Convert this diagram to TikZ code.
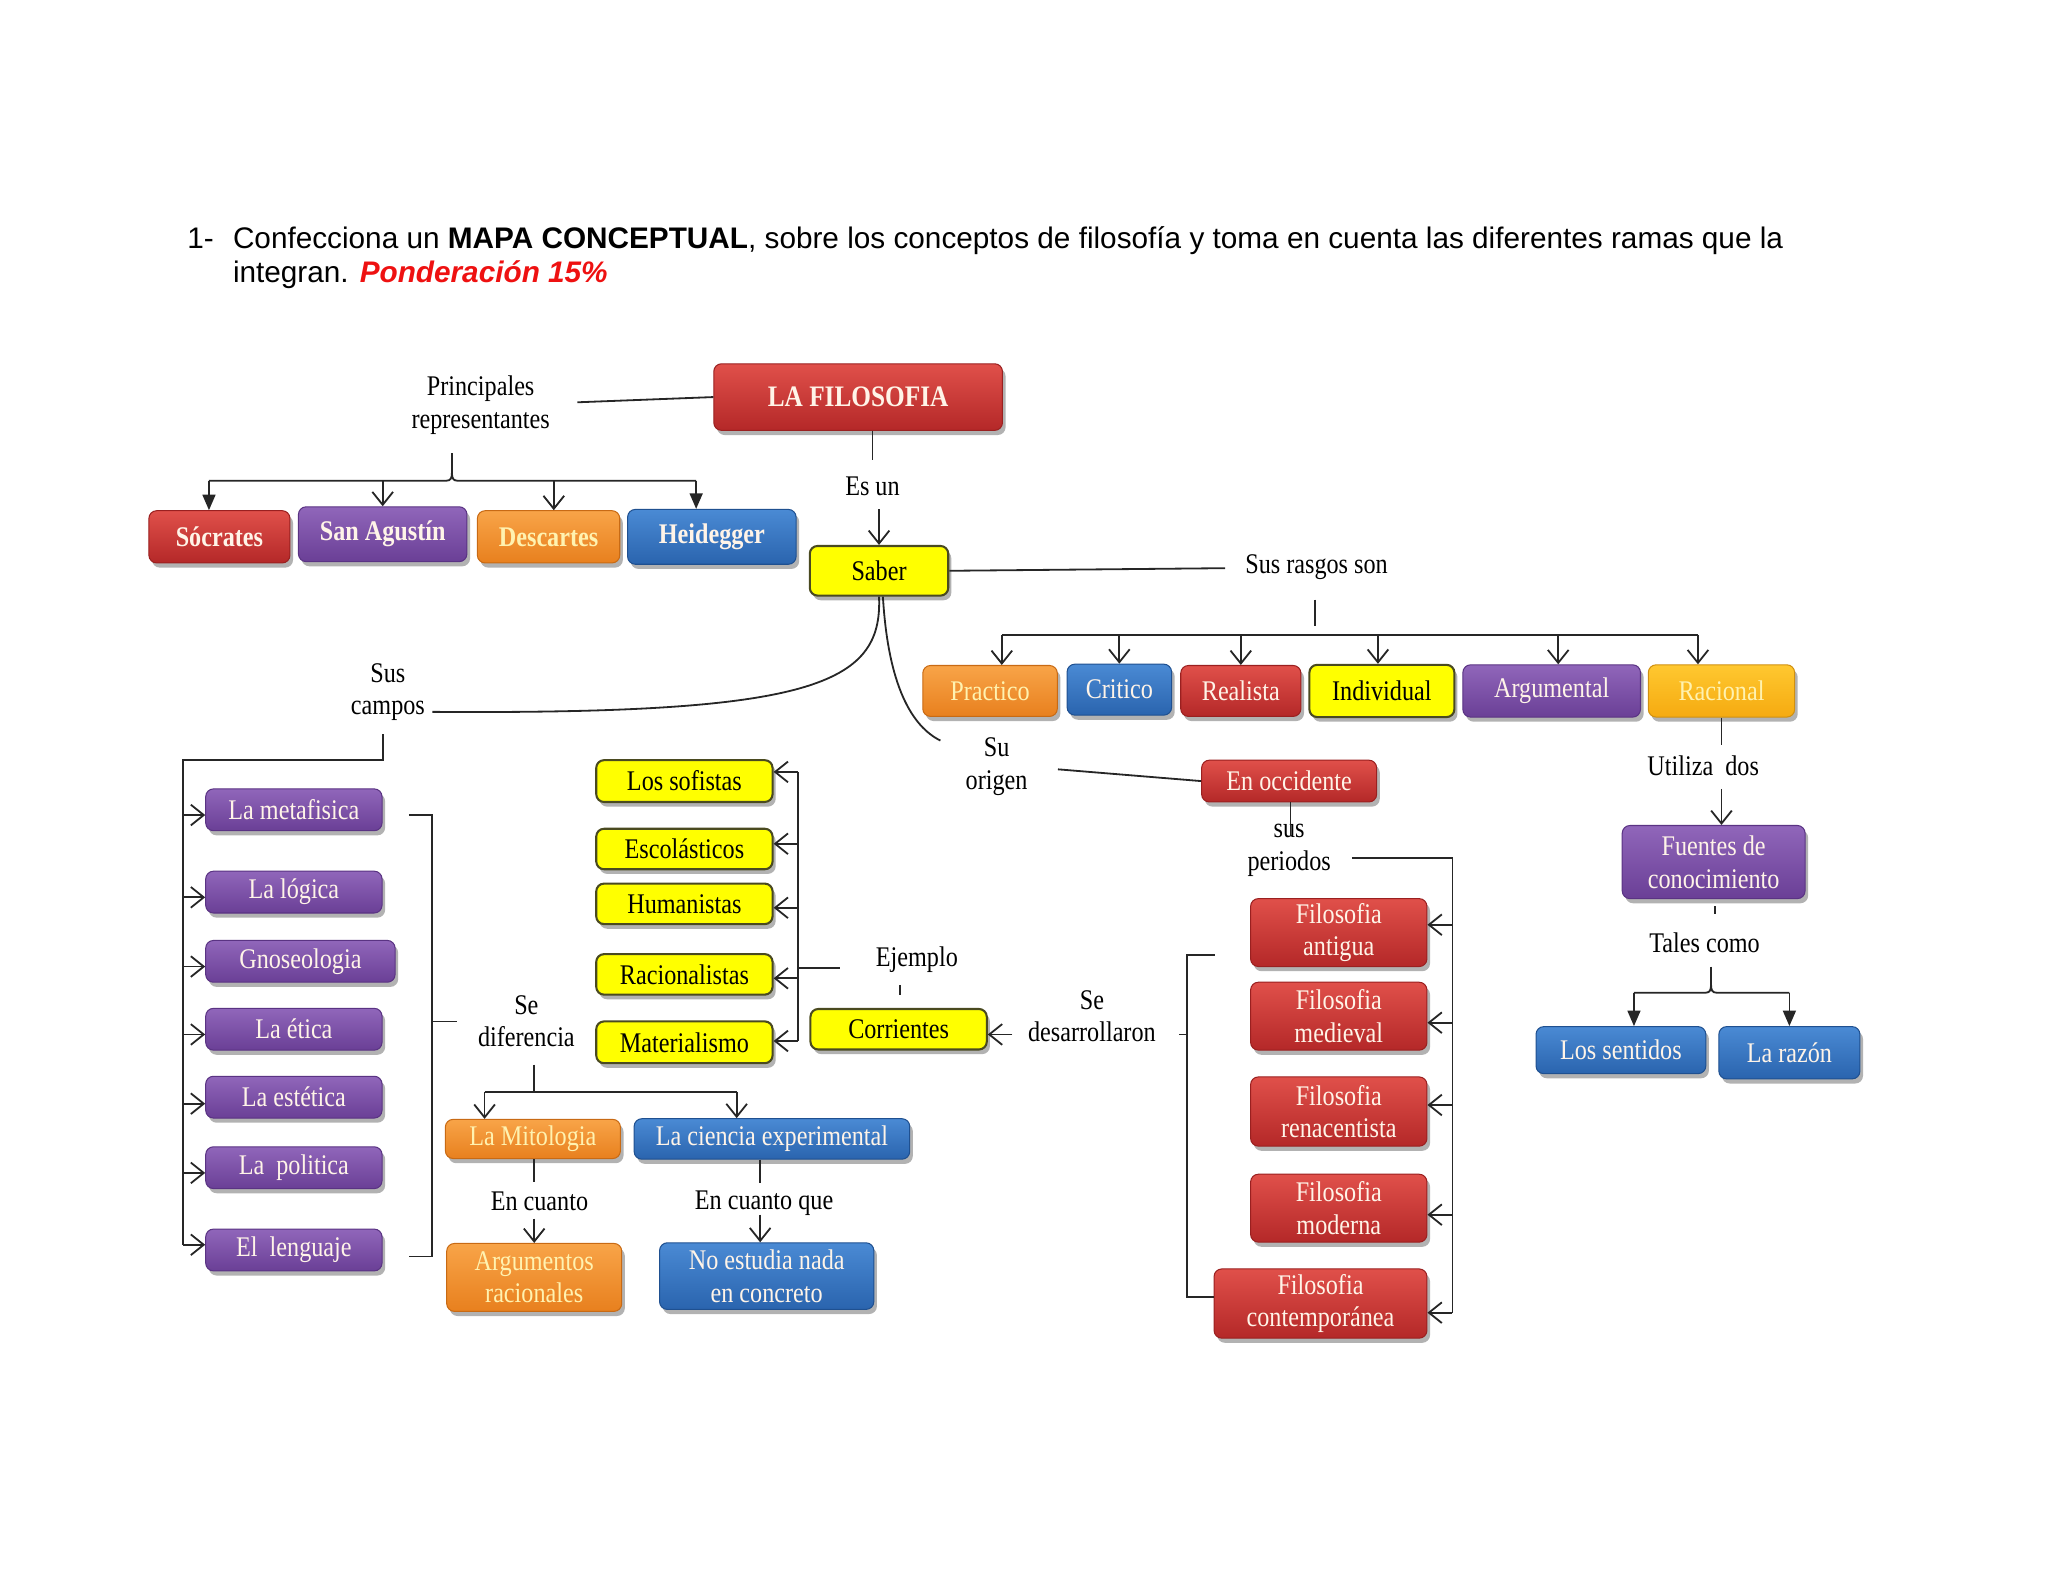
\documentclass[tikz,border=0pt]{standalone}
\usepackage{fontspec}
\usetikzlibrary{arrows.meta,shadows}
\newfontfamily\titlefont{Liberation Sans}
\newfontfamily\dfont[FakeStretch=0.85]{Liberation Serif}
\definecolor{redT}{HTML}{E0504A}\definecolor{redB}{HTML}{B42828}\definecolor{redD}{HTML}{9A2020}
\definecolor{purT}{HTML}{9066BA}\definecolor{purB}{HTML}{6A3F96}\definecolor{purD}{HTML}{5A3383}
\definecolor{oraT}{HTML}{F8A448}\definecolor{oraB}{HTML}{E8801E}\definecolor{oraD}{HTML}{C86A14}
\definecolor{bluT}{HTML}{4A8AD4}\definecolor{bluB}{HTML}{2A64AE}\definecolor{bluD}{HTML}{1F5090}
\definecolor{golT}{HTML}{FFC830}\definecolor{golB}{HTML}{F5AA10}\definecolor{golD}{HTML}{D09010}
\definecolor{yelF}{HTML}{FFFF00}\definecolor{yelD}{HTML}{4A4A20}
\definecolor{lnc}{HTML}{262626}
\definecolor{pale}{HTML}{FFF4E8}
\definecolor{paleY}{HTML}{FFF2B0}
\definecolor{titred}{HTML}{EE1111}
\tikzset{
  wh/.style 2 args={minimum width=#1*0.505pt, minimum height=#2*0.505pt},
  bx/.style={rounded corners=3pt, inner sep=0pt, align=center,
    font=\dfont\fontsize{11}{12.6}\selectfont,
    drop shadow={shadow xshift=1.2pt, shadow yshift=-1.8pt, opacity=0.3, fill=black}},
  redbox/.style={bx, top color=redT, bottom color=redB, draw=redD, text=pale},
  purbox/.style={bx, top color=purT, bottom color=purB, draw=purD, text=pale},
  orabox/.style={bx, top color=oraT, bottom color=oraB, draw=oraD, text=paleY},
  blubox/.style={bx, top color=bluT, bottom color=bluB, draw=bluD, text=pale},
  golbox/.style={bx, top color=golT, bottom color=golB, draw=golD, text=paleY},
  yelbox/.style={bx, fill=yelF, draw=yelD, line width=0.8pt, text=black},
  bld/.style={font=\dfont\bfseries\fontsize{11}{12.6}\selectfont},
  lbl/.style={inner sep=1pt, align=center, font=\dfont\fontsize{11}{12.6}\selectfont},
  ln/.style={draw=lnc, line width=0.7pt},
  arrO/.style={ln, -{Straight Barb[length=5pt,width=8pt]}},
  arrF/.style={ln, -{Triangle[length=6pt,width=5pt]}},
  ttl/.style={anchor=base west, inner sep=0pt, font=\titlefont\fontsize{11.5}{14}\selectfont}
}
\begin{document}
\begin{tikzpicture}[x=0.505pt, y=-0.505pt]
\useasboundingbox (0,0) rectangle (1568,1211);
% title
\node[ttl] (t1) at (143,190) {1-};
\node[ttl] (t2) at (178,190) {Confecciona un \textbf{MAPA CONCEPTUAL}, sobre los conceptos de filosofía y toma en cuenta las diferentes ramas que la};
\node[ttl] (t3) at (178,216) {integran. \textcolor{titred}{\textbf{\textit{Ponderación 15\%}}}};

% top
\node[redbox, wh={221}{51}, font=\dfont\bfseries\fontsize{11.5}{14}\selectfont] (filo) at (657,304) {LA FILOSOFIA};
\node[lbl] (lprin) at (368,310) {Principales\\representantes};
\node[redbox, bld, wh={108}{40}] (soc) at (168,411) {Sócrates};
\node[purbox, bld, wh={129}{42}] (agu) at (293,409) {San Agustín};
\node[orabox, bld, wh={109}{40}] (des) at (420,411) {Descartes};
\node[blubox, bld, wh={129}{42}] (hei) at (545,411) {Heidegger};
\node[lbl] (lesun) at (668,372) {Es un};
\node[yelbox, wh={106}{38}] (saber) at (673,437) {Saber};
\node[lbl] (lrasg) at (1008,434) {Sus rasgos son};

% rasgos
\node[orabox, wh={103}{39}] (prac) at (758,529) {Practico};
\node[blubox, wh={80}{39}] (crit) at (857,528) {Critico};
\node[redbox, wh={92}{39}] (real) at (950,529) {Realista};
\node[yelbox, wh={111}{40}] (indi) at (1058,529) {Individual};
\node[purbox, wh={136}{40}] (argu) at (1188,529) {Argumental};
\node[golbox, wh={112}{40}] (raci) at (1318,529) {Racional};
\node[lbl] (lutil) at (1304,586) {Utiliza\ \ dos};
\node[purbox, wh={140}{56}] (fuen) at (1312,660) {Fuentes de\\conocimiento};
\node[lbl] (ltale) at (1305,722) {Tales como};
\node[blubox, wh={130}{36}] (sent) at (1241,804) {Los sentidos};
\node[blubox, wh={108}{40}] (razon) at (1370,806) {La razón};

% campos
\node[lbl] (lcamp) at (297,530) {Sus\\campos};
\node[purbox, wh={135}{32}] (meta) at (225,620) {La metafisica};
\node[purbox, wh={135}{32}] (logi) at (225,683) {La lógica};
\node[purbox, wh={145}{32}] (gnos) at (230,736) {Gnoseologia};
\node[purbox, wh={135}{32}] (etic) at (225,788) {La ética};
\node[purbox, wh={135}{32}] (este) at (225,840) {La estética};
\node[purbox, wh={135}{32}] (poli) at (225,894) {La\ \ politica};
\node[purbox, wh={135}{32}] (leng) at (225,957) {El\ \ lenguaje};
\node[lbl] (ldife) at (403,782) {Se\\diferencia};
\node[orabox, wh={134}{30}] (mito) at (408,872) {La Mitologia};
\node[blubox, wh={211}{31}] (cien) at (591,872) {La ciencia experimental};
\node[lbl] (lencu) at (413,920) {En cuanto};
\node[lbl] (lencq) at (585,921) {En cuanto que};
\node[orabox, wh={134}{52}] (argr) at (409,978) {Argumentos\\racionales};
\node[blubox, wh={164}{51}] (noes) at (587,977) {No estudia nada\\en concreto};

% corrientes
\node[yelbox, wh={135}{32}] (sofi) at (524,598) {Los sofistas};
\node[yelbox, wh={135}{31}] (esco) at (524,650) {Escolásticos};
\node[yelbox, wh={135}{31}] (huma) at (524,692) {Humanistas};
\node[yelbox, wh={135}{31}] (raca) at (524,746) {Racionalistas};
\node[yelbox, wh={135}{32}] (mate) at (524,798) {Materialismo};
\node[lbl] (lejem) at (702,735) {Ejemplo};
\node[yelbox, wh={135}{31}] (corr) at (688,788) {Corrientes};
\node[lbl] (ldesa) at (836,778) {Se\\desarrollaron};

% origen
\node[lbl] (lorig) at (763,587) {Su\\origen};
\node[redbox, wh={134}{32}] (occi) at (987,598) {En occidente};
\node[lbl] (lperi) at (987,651) {sus\\periodos};
\node[redbox, wh={135}{52}] (anti) at (1025,714) {Filosofia\\antigua};
\node[redbox, wh={135}{52}] (medi) at (1025,778) {Filosofia\\medieval};
\node[redbox, wh={135}{53}] (rena) at (1025,851) {Filosofia\\renacentista};
\node[redbox, wh={135}{52}] (mode) at (1025,925) {Filosofia\\moderna};
\node[redbox, wh={163}{53}] (cont) at (1011,998) {Filosofia\\contemporánea};

% ---------- connectors ----------
% filosofia - principales
\coordinate (pE) at (442,308);
\draw[ln] (filo.west) -- (pE);
\coordinate (pS) at (346,347);
\coordinate (pJ) at (346,362);
\coordinate (b1) at (160,368);
\coordinate (b2) at (293,368);
\coordinate (b3) at (424,368);
\coordinate (b4) at (533,368);
\draw[ln] (pS) -- (pJ);
\draw[ln] (b1) -- (342,368) .. controls (345,368) and (346,366) .. (pJ);
\draw[ln] (pJ) .. controls (346,366) and (347,368) .. (350,368) -- (b4);
\draw[arrF] (b1) -- (b1 |- soc.north);
\draw[arrO] (b2) -- (b2 |- agu.north);
\draw[arrO] (b3) -- (b3 |- des.north);
\draw[arrF] (b4) -- (b4 |- hei.north);
% filosofia - saber
\coordinate (fS) at (668,352);
\draw[ln] (fS |- filo.south) -- (fS);
\coordinate (eS) at (673,390);
\draw[arrO] (eS) -- (eS |- saber.north);
% saber - rasgos
\coordinate (rW) at (938,435);
\draw[ln] (saber.east) -- (rW);
\coordinate (rs1) at (1007,459);
\coordinate (rs2) at (1007,479);
\draw[ln] (rs1) -- (rs2);
\coordinate (h1) at (767,486);
\coordinate (h2) at (857,486);
\coordinate (h3) at (950,486);
\coordinate (h4) at (1055,486);
\coordinate (h5) at (1193,486);
\coordinate (h6) at (1300,486);
\draw[ln] (h1) -- (h6);
\draw[arrO] (h1) -- (h1 |- prac.north);
\draw[arrO] (h2) -- (h2 |- crit.north);
\draw[arrO] (h3) -- (h3 |- real.north);
\draw[arrO] (h4) -- (h4 |- indi.north);
\draw[arrO] (h5) -- (h5 |- argu.north);
\draw[arrO] (h6) -- (h6 |- raci.north);
% racional - fuentes
\coordinate (u1) at (1318,570);
\draw[ln] (raci.south) -- (u1);
\coordinate (u2) at (1318,604);
\draw[arrO] (u2) -- (u2 |- fuen.north);
\coordinate (f1) at (1313,694);
\coordinate (f2) at (1313,700);
\draw[ln] (f1) -- (f2);
\coordinate (tS) at (1310,740);
\coordinate (tJ) at (1310,754);
\coordinate (s1) at (1251,760);
\coordinate (s2) at (1370,760);
\draw[ln] (tS) -- (tJ);
\draw[ln] (s1) -- (1306,760) .. controls (1309,760) and (1310,758) .. (tJ);
\draw[ln] (tJ) .. controls (1310,758) and (1311,760) .. (1314,760) -- (s2);
\draw[arrF] (s1) -- (s1 |- sent.north);
\draw[arrF] (s2) -- (s2 |- razon.north);
% saber curves
\coordinate (cE) at (331,545);
\draw[ln] (saber.south) .. controls (676,525) and (620,547) .. (cE);
\coordinate (oE) at (720,567);
\draw[ln] ([xshift=1.5pt]saber.south) .. controls (680,525) and (698,556) .. (oE);
% origen - occidente
\coordinate (oW) at (810,589);
\draw[ln] (oW) -- (occi.west);
\coordinate (oc2) at (988,640);
\draw[ln] (oc2 |- occi.south) -- (oc2);
% periodos
\coordinate (pr1) at (1035,657);
\coordinate (pr2) at (1112,657);
\coordinate (pr3) at (1112,1005);
\draw[ln] (pr1) -- (pr2) -- (pr3);
\draw[arrO] (1112,708) -- (anti.east |- 1112,708);
\draw[arrO] (1112,783) -- (medi.east |- 1112,783);
\draw[arrO] (1112,846) -- (rena.east |- 1112,846);
\draw[arrO] (1112,930) -- (mode.east |- 1112,930);
\draw[arrO] (pr3) -- (cont.east |- pr3);
% se desarrollaron bracket
\coordinate (d1) at (930,731);
\coordinate (d2) at (909,731);
\coordinate (d3) at (909,993);
\coordinate (d4) at (903,792);
\coordinate (d5) at (909,792);
\draw[ln] (d1) -- (d2) -- (d3) -- (cont.west |- d3);
\draw[ln] (d4) -- (d5);
\coordinate (dW) at (775,792);
\draw[arrO] (dW) -- (corr.east |- dW);
% ejemplo
\coordinate (e1) at (643,741);
\coordinate (e2) at (611,741);
\coordinate (eT) at (611,591);
\coordinate (eB) at (611,797);
\draw[ln] (e1) -- (e2);
\draw[ln] (eT) -- (eB);
\draw[arrO] (eT) -- (sofi.east |- eT);
\draw[arrO] (611,646) -- (esco.east |- 611,646);
\draw[arrO] (611,695) -- (huma.east |- 611,695);
\draw[arrO] (611,749) -- (raca.east |- 611,749);
\draw[arrO] (eB) -- (mate.east |- eB);
\coordinate (ek1) at (689,754);
\coordinate (ek2) at (689,762);
\draw[ln] (ek1) -- (ek2);
% campos
\coordinate (c1) at (293,562);
\coordinate (c2) at (293,582);
\coordinate (c3) at (140,582);
\coordinate (c4) at (140,953);
\draw[ln] (c1) -- (c2) -- (c3) -- (c4);
\draw[arrO] (140,624) -- (meta.west |- 140,624);
\draw[arrO] (140,687) -- (logi.west |- 140,687);
\draw[arrO] (140,740) -- (gnos.west |- 140,740);
\draw[arrO] (140,792) -- (etic.west |- 140,792);
\draw[arrO] (140,845) -- (este.west |- 140,845);
\draw[arrO] (140,898) -- (poli.west |- 140,898);
\draw[arrO] (c4) -- (leng.west |- c4);
% right bracket of campos
\coordinate (k1) at (313,624);
\coordinate (k2) at (331,624);
\coordinate (k3) at (331,962);
\coordinate (k4) at (313,962);
\coordinate (k5) at (331,782);
\coordinate (k6) at (350,782);
\draw[ln] (k1) -- (k2) -- (k3) -- (k4);
\draw[ln] (k5) -- (k6);
% se diferencia
\coordinate (sd1) at (409,815);
\coordinate (sd2) at (409,836);
\coordinate (m1) at (371,836);
\coordinate (m2) at (564,836);
\draw[ln] (sd1) -- (sd2);
\draw[ln] (m1) -- (m2);
\draw[arrO] (m1) -- (m1 |- mito.north);
\draw[arrO] (m2) -- (m2 |- cien.north);
\coordinate (ec1) at (409,905);
\draw[ln] (ec1 |- mito.south) -- (ec1);
\coordinate (ec2) at (409,933);
\draw[arrO] (ec2) -- (ec2 |- argr.north);
\coordinate (eq1) at (582,906);
\draw[ln] (eq1 |- cien.south) -- (eq1);
\coordinate (eq2) at (582,930);
\draw[arrO] (eq2) -- (eq2 |- noes.north);
\end{tikzpicture}
\end{document}
